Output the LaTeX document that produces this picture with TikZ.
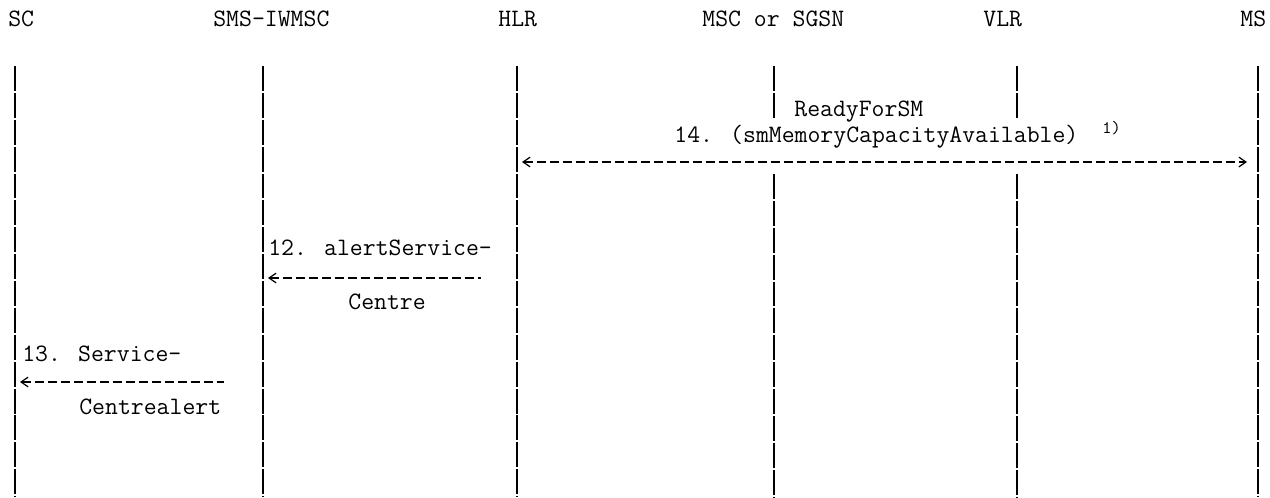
\documentclass[tikz,border=0pt]{standalone}
\usetikzlibrary{arrows.meta,positioning}

\begin{document}
\begin{tikzpicture}[
    x=0.02cm, y=-0.02cm,
    >={Straight Barb[length=4pt, width=5.5pt]},
    entity/.style={anchor=base west, inner sep=0pt,
                   font=\ttfamily\fontsize{14.25}{16}\selectfont},
    msgtext/.style={anchor=base west, inner sep=0pt,
                    font=\ttfamily\fontsize{14.25}{16}\selectfont},
    note/.style={anchor=base west, inner sep=0pt,
                 font=\ttfamily\fontsize{10}{12}\selectfont},
    lifeline/.style={line width=0.8pt, dash pattern=on 14.2pt off 1.1pt},
    msg/.style={line width=0.7pt, dash pattern=on 5.4pt off 2pt}
  ]
    \useasboundingbox (0,0) rectangle (1270,497);

    \node[entity] (sc) at (8,27) {SC};
    \node[entity] (iwmsc) at (213,27) {SMS-IWMSC};
    \node[entity] (hlr) at (498,27) {HLR};
    \node[entity] (msc) at (702,27) {MSC or SGSN};
    \node[entity] (vlr) at (983,27) {VLR};
    \node[entity] (ms) at (1240,27) {MS};

    \foreach \name/\x in {sc/15, iwmsc/263, hlr/517, ms/1258} {
      \coordinate (\name-top) at (\x,66);
      \coordinate (\name-bot) at (\x,497);
      \draw[lifeline] (\name-top) -- (\name-bot);
    }
    \foreach \name/\x in {msc/774, vlr/1017} {
      \coordinate (\name-top) at (\x,66);
      \coordinate (\name-gap) at (\x,118);
      \coordinate (\name-mid) at (\x,174);
      \coordinate (\name-bot) at (\x,497);
      \draw[lifeline] (\name-top) -- (\name-gap);
      \draw[lifeline] (\name-mid) -- (\name-bot);
    }

    \node[msgtext] (ready) at (794,116) {ReadyForSM};
    \node[msgtext] (avail) at (674,142) {14. (smMemoryCapacityAvailable)};
    \node[note] (fn) at (1102,133) {1)};
    \coordinate (hlr14) at (522,162);
    \coordinate (ms14) at (1247,162);
    \draw[msg, <->] (hlr14) -- (ms14);

    \node[msgtext] (alert) at (268,255) {12. alertService-};
    \node[msgtext] (centre) at (348,309) {Centre};
    \coordinate (iwmsc12) at (268,278);
    \coordinate (hlr12) at (481,278);
    \draw[msg, <-] (iwmsc12) -- (hlr12);

    \node[msgtext] (service) at (22,361) {13. Service-};
    \node[msgtext] (centrealert) at (79,414) {Centrealert};
    \coordinate (sc13) at (20,382);
    \coordinate (iwmsc13) at (224,382);
    \draw[msg, <-] (sc13) -- (iwmsc13);
\end{tikzpicture}
\end{document}
